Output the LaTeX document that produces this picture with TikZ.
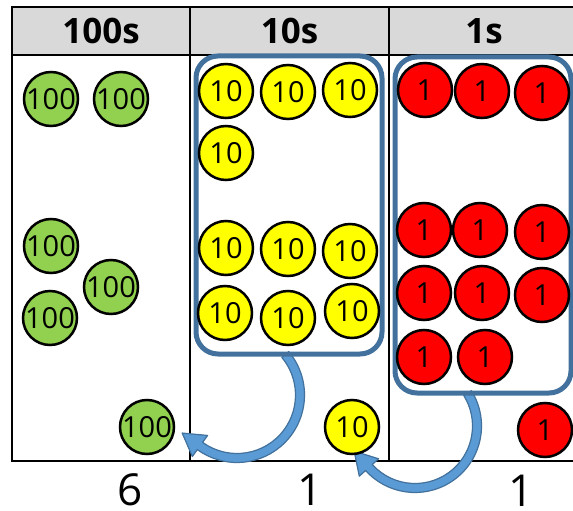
\documentclass[tikz,border=0pt]{standalone}
\usepackage{fontspec}
\setmainfont{Open Sans}
\usetikzlibrary{calc}
\definecolor{hdrgray}{HTML}{D9D9D9}
\definecolor{grpblue}{HTML}{41719C}
\definecolor{arrfill}{HTML}{5B9BD5}
\definecolor{coingreen}{HTML}{92D050}
\definecolor{coinyellow}{HTML}{FFFF00}
\definecolor{coinred}{HTML}{FF0000}
\begin{document}
\begin{tikzpicture}[x=1pt,y=1pt,
  coin/.style={circle,draw=black,line width=2.5pt,minimum size=54pt,inner sep=0pt,font=\fontsize{29}{30}\selectfont},
  gcoin/.style={coin,fill=coingreen},
  ycoin/.style={coin,fill=coinyellow},
  rcoin/.style={coin,fill=coinred},
  gridline/.style={line width=2.7pt,draw=black},
  group/.style={draw=grpblue,line width=5pt,rounded corners=22pt},
  bigarrow/.style={fill=arrfill,draw=grpblue,line width=1.2pt,line join=round},
  head/.style={font=\bfseries\fontsize{35}{40}\selectfont,inner sep=0pt},
  total/.style={font=\fontsize{44}{50}\selectfont,inner sep=0pt}]
\useasboundingbox (0,0) rectangle (573,-511);
% table
\fill[hdrgray] (12,-7) rectangle (573,-55);
\draw[gridline] (573,-7) -- (12,-7) -- (12,-461) -- (573,-461);
\draw[gridline] (12,-55) -- (573,-55);
\draw[gridline] (190,-7) -- (190,-461);
\draw[gridline] (389,-7) -- (389,-461);
\node[head] (h1) at (101,-31) {100s};
\node[head] (h2) at (289.5,-31) {10s};
\node[head] (h3) at (484,-31) {1s};
% curved arrows
\coordinate (c1) at (237,-395);
\coordinate (c2) at (415,-426);
\filldraw[bigarrow] ($(c1)+(40:67.5)$) arc[start angle=40,end angle=-126,radius=67.5]
  -- ($(c1)+(-126:76)$) -- ($(c1)+(-126:63)+(144:22)$) -- ($(c1)+(-126:50)$)
  -- ($(c1)+(-126:58.5)$) arc[start angle=-126,end angle=40,radius=58.5] -- cycle;
\filldraw[bigarrow] ($(c2)+(32:66.5)$) arc[start angle=32,end angle=-138,radius=66.5]
  -- ($(c2)+(-138:75)$) -- ($(c2)+(-138:62)+(132:22)$) -- ($(c2)+(-138:49)$)
  -- ($(c2)+(-138:57.5)$) arc[start angle=-138,end angle=32,radius=57.5] -- cycle;
% groups
\draw[group] (196,-56) rectangle (382,-354);
\draw[group] (395,-57) rectangle (571,-393);
% hundreds
\node[gcoin] (g1) at (51,-99) {100};
\node[gcoin] (g2) at (121,-99) {100};
\node[gcoin] (g3) at (51,-246) {100};
\node[gcoin] (g4) at (111,-287) {100};
\node[gcoin] (g5) at (50,-318) {100};
\node[gcoin] (g6) at (147,-427) {100};
% tens
\node[ycoin] (y1) at (226,-91) {10};
\node[ycoin] (y2) at (288,-92) {10};
\node[ycoin] (y3) at (350,-90) {10};
\node[ycoin] (y4) at (226,-153) {10};
\node[ycoin] (y5) at (226,-248) {10};
\node[ycoin] (y6) at (288,-249) {10};
\node[ycoin] (y7) at (350,-251) {10};
\node[ycoin] (y8) at (225,-313) {10};
\node[ycoin] (y9) at (288,-318) {10};
\node[ycoin] (y10) at (352,-311) {10};
\node[ycoin] (y11) at (352,-427) {10};
% ones
\node[rcoin] (r1) at (425,-90) {1};
\node[rcoin] (r2) at (482,-91) {1};
\node[rcoin] (r3) at (542,-93) {1};
\node[rcoin] (r4) at (424,-230) {1};
\node[rcoin] (r5) at (480,-230) {1};
\node[rcoin] (r6) at (542,-232) {1};
\node[rcoin] (r7) at (424,-293) {1};
\node[rcoin] (r8) at (482,-293) {1};
\node[rcoin] (r9) at (542,-295) {1};
\node[rcoin] (r10) at (424,-357) {1};
\node[rcoin] (r11) at (485,-357) {1};
\node[rcoin] (r12) at (545,-430) {1};
% totals
\node[total] (t1) at (130,-490) {6};
\node[total] (t2) at (310,-490) {1};
\node[total] (t3) at (521,-491) {1};
\end{tikzpicture}
\end{document}
